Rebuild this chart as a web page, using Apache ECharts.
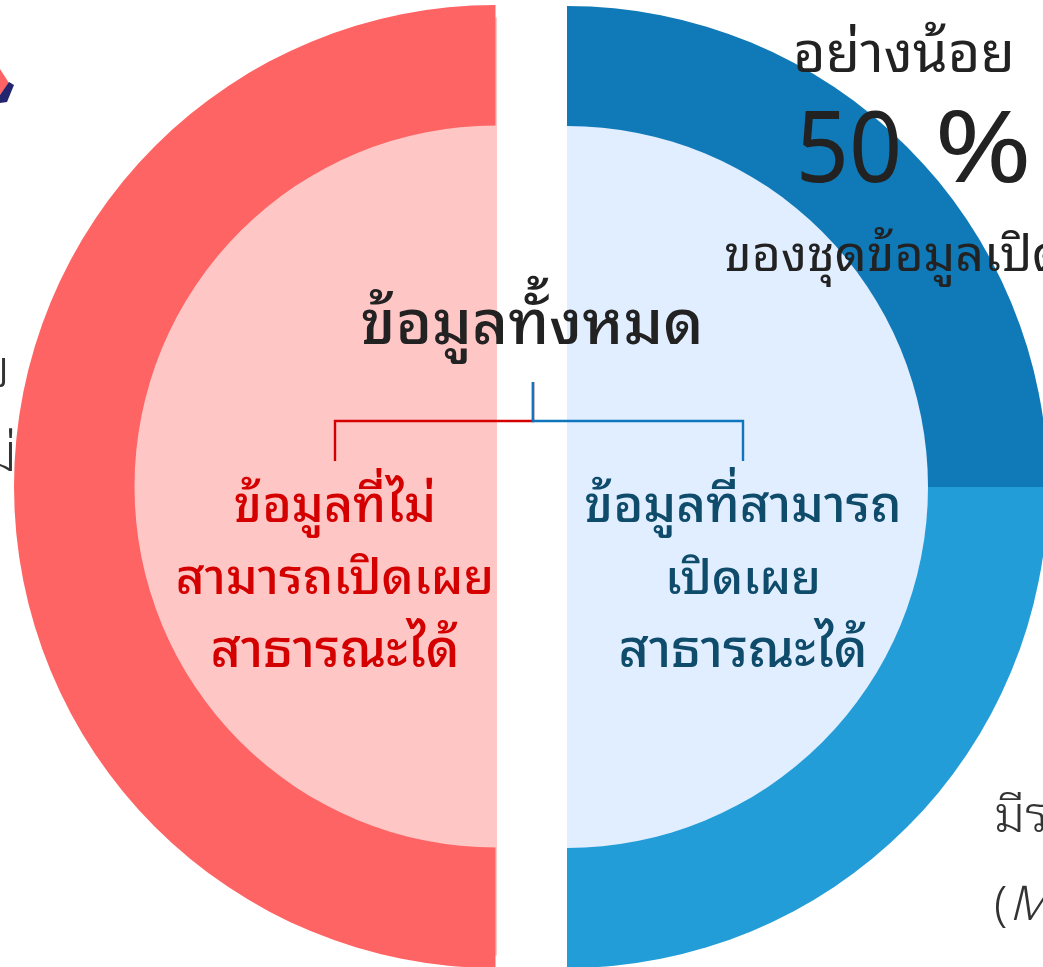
<!DOCTYPE html>
<html><head><meta charset="utf-8">
<style>html,body{margin:0;padding:0;background:#fff;overflow:hidden}#c{width:1043px;height:967px}</style>
<script src="https://cdn.jsdelivr.net/npm/echarts@6/dist/echarts.min.js"></script></head>
<body><div id="c"></div>
<script>
const leftOuter=[{name:'ไม่สามารถเปิดเผย',value:100}];
const leftInner=[{name:'ข้อมูลที่ไม่สามารถเปิดเผยสาธารณะได้',value:100}];
const rightOuter=[{name:'อย่างน้อย 50 %',value:50},{name:'มีรายละเอียด',value:50}];
const rightInner=[{name:'ข้อมูลที่สามารถเปิดเผยสาธารณะได้',value:100}];
const FONT='"Noto Sans Thai Looped","Noto Sans",sans-serif';
const INK='#222222';
function half(data,colors,cx,cy,r0,r1,start,end){
  return {type:'pie',silent:true,center:[cx,cy],radius:[r0,r1],startAngle:start,endAngle:end,clockwise:true,
    label:{show:false},labelLine:{show:false},animation:false,
    itemStyle:{borderWidth:0,color:function(p){return colors[p.dataIndex];}},data:data};
}
function txt(x,y,s,size,fill,align,weight,extra,style){
  return Object.assign({type:'text',z:20,x:x,y:y,style:Object.assign({text:s,fontSize:size,fill:fill,align:align||'center',verticalAlign:'middle',
    fontFamily:FONT,fontWeight:weight||'normal'},style||{})},extra||{});
}
function line(pts,color,w,z){return {type:'polyline',z:z||15,shape:{points:pts},style:{stroke:color,lineWidth:w,fill:null}};}
const chart=echarts.init(document.getElementById('c'),null,{renderer:'canvas'});
chart.setOption({
  animation:false,backgroundColor:'#fff',
  series:[
    half(leftInner,['#FFC6C6'],497,486.5,0,469,270,90),
    half(leftOuter,['#FF6464'],495.5,486.5,361,481.5,270,90),
    half(rightOuter,['#107AB8','#229DD8'],567,487,0,481,90,-90),
    half(rightInner,['#E1EEFF'],567,487,0,361,90,-90)
  ],
  graphic:{elements:[
    {type:'polygon',z:5,shape:{points:[[0,69],[9,83],[0,95]]},style:{fill:'#FF6464'}},
    {type:'polygon',z:6,shape:{points:[[9,82],[14,85],[7,102],[0,103],[0,95]]},style:{fill:'#23266E'}},
    txt(10,372,'ครบ',52,'#333','right','300'),
    txt(17,456,'ไม่',52,'#333','right','300'),
    txt(904,56,'อย่างน้อย',56,INK),
    txt(849,154,'50',98,INK,'center','normal',{scaleX:0.95}),
    txt(983,154,'%',98,INK,'center','normal',{scaleX:1.2}),
    txt(724,257,'ของชุดข้อมูลเปิด',50,INK,'left'),
    txt(532,327,'ข้อมูลทั้งหมด',62,INK,'center','500'),
    line([[533,382],[533,421],[335,421],[335,461]],'#D40000',2.4),
    line([[533,382],[533,421],[743,421],[743,461]],'#0F75BC',2.4,16),
    txt(335,508,'ข้อมูลที่ไม่',50,'#D40000','center','500'),
    txt(335,580,'สามารถเปิดเผย',49.5,'#D40000','center','500'),
    txt(335,652,'สาธารณะได้',52,'#D40000','center','500'),
    txt(743,508,'ข้อมูลที่สามารถ',51,'#0F4C6B','center','500'),
    txt(743,580,'เปิดเผย',48,'#0F4C6B','center','500'),
    txt(743,652,'สาธารณะได้',52,'#0F4C6B','center','500'),
    txt(994,818,'มีรายละเอียด',50,'#333','left','300'),
    txt(994,906,'(',48,'#333','left','300'),
    txt(1009,906,'Metadata)',48,'#333','left','300',null,{fontStyle:'italic'})
  ]}
});
</script></body></html>
